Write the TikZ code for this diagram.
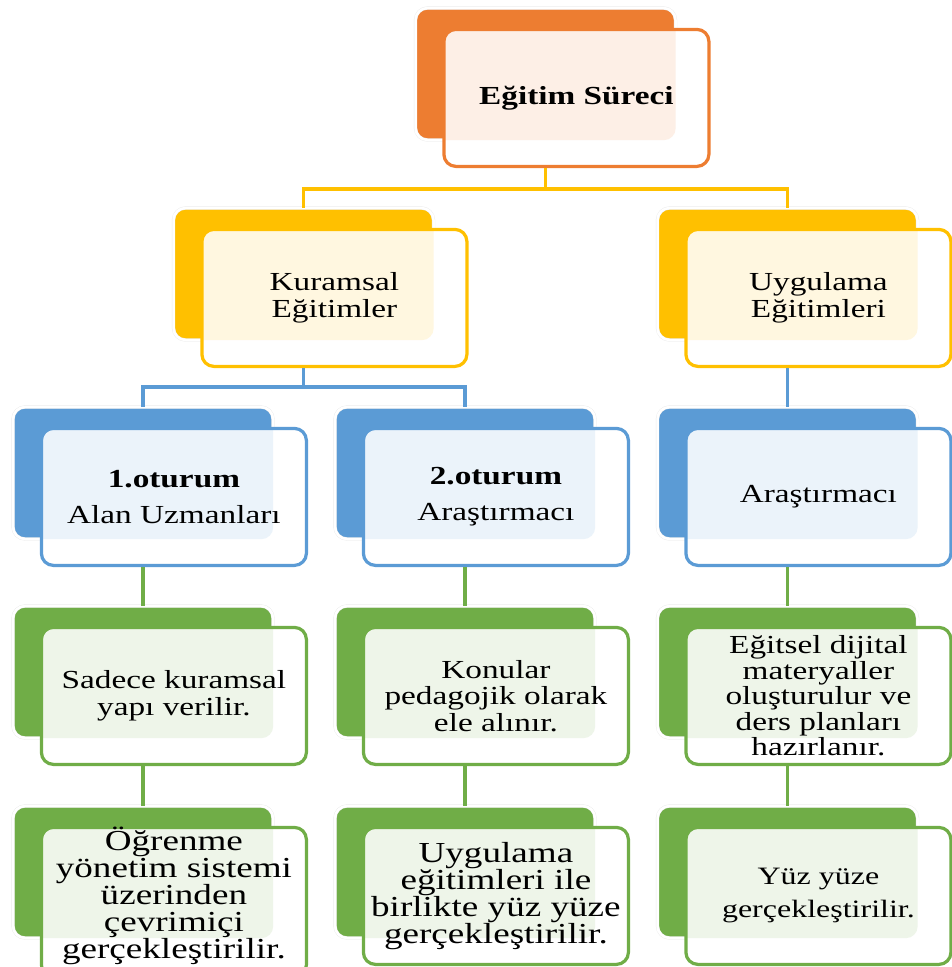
\documentclass[tikz,border=0pt]{standalone}
\usepackage{fontspec}
\setmainfont{Liberation Serif}[FakeStretch=1.28]
\usepackage{tikz}
\usetikzlibrary{positioning}

\definecolor{surecorange}{HTML}{ED7D31}
\definecolor{egitimgold}{HTML}{FFC000}
\definecolor{oturumblue}{HTML}{5B9BD5}
\definecolor{detaygreen}{HTML}{70AD47}

\begin{document}
\begin{tikzpicture}[x=1pt,y=-1pt]
\tikzset{
    back/.style={rectangle, rounded corners=12pt, fill=#1, draw=black!8, double=white, double distance=2.5pt, minimum width=260pt, minimum height=132pt, inner sep=0pt},
    front/.style 2 args={rectangle, rounded corners=12pt, fill=white, draw=#2, line width=3.2pt, minimum width=265pt, minimum height=137pt, inner sep=0pt, align=center, font=\fontsize{26}{26.5}\selectfont, below right=20pt and 27pt of #1.north west, path picture={\fill[#2!12, rounded corners=12pt] (#1.south west) rectangle (#1.north east);}},
    link/.style={draw=#1, line width=3.4pt}
}
\useasboundingbox (0,0) rectangle (951,967);

% ust seviye
\node[back=surecorange] (surecB) at (545.5,74) {};
\node[front={surecB}{surecorange}] (surec) {\textbf{Eğitim Süreci}};

% egitim turleri
\node[back=egitimgold] (kuramsalB) at (303.5,274) {};
\node[front={kuramsalB}{egitimgold}] (kuramsal) {Kuramsal\\Eğitimler};
\node[back=egitimgold] (uygulamaB) at (787.5,274) {};
\node[front={uygulamaB}{egitimgold}] (uygulama) {Uygulama\\Eğitimleri};

% oturumlar
\node[back=oturumblue] (oturum1B) at (143,473) {};
\node[front={oturum1B}{oturumblue}] (oturum1) {\textbf{1.oturum}\\[10pt]Alan Uzmanları};
\node[back=oturumblue] (oturum2B) at (465,473) {};
\node[front={oturum2B}{oturumblue}] (oturum2) {\textbf{2.oturum}\\[10pt]Araştırmacı};
\node[back=oturumblue] (arastirmaB) at (787.5,473) {};
\node[front={arastirmaB}{oturumblue}] (arastirma) {Araştırmacı};

% icerik
\node[back=detaygreen] (sadeceB) at (143,672) {};
\node[front={sadeceB}{detaygreen}] (sadece) {Sadece kuramsal\\yapı verilir.};
\node[back=detaygreen] (konularB) at (465,672) {};
\node[front={konularB}{detaygreen}] (konular) {Konular\\pedagojik olarak\\ele alınır.};
\node[back=detaygreen] (egitselB) at (787.5,672) {};
\node[front={egitselB}{detaygreen}, font=\fontsize{26}{25.5}\selectfont] (egitsel) {Eğitsel dijital\\materyaller\\oluşturulur ve\\ders planları\\hazırlanır.};

% ortam
\node[back=detaygreen] (ogrenmeB) at (143,872) {};
\node[front={ogrenmeB}{detaygreen}, font=\fontsize{29}{27}\selectfont, text depth=18pt] (ogrenme) {Öğrenme\\yönetim sistemi\\üzerinden\\çevrimiçi\\gerçekleştirilir.};
\node[back=detaygreen] (birlikteB) at (465,872) {};
\node[front={birlikteB}{detaygreen}, font=\fontsize{29}{27}\selectfont] (birlikte) {Uygulama\\eğitimleri ile\\birlikte yüz yüze\\gerçekleştirilir.};
\node[back=detaygreen] (yuzB) at (787.5,872) {};
\node[front={yuzB}{detaygreen}, font=\fontsize{25}{33}\selectfont] (yuz) {Yüz yüze\\gerçekleştirilir.};

% baglantilar
\draw[link=egitimgold] (surecB |- surec.south) -- ++(0,21) -| (kuramsalB.north);
\draw[link=egitimgold] (surecB |- surec.south) -- ++(0,21) -| (uygulamaB.north);
\draw[link=oturumblue] (kuramsalB |- kuramsal.south) -- ++(0,19) -| (oturum1B.north);
\draw[link=oturumblue] (kuramsalB |- kuramsal.south) -- ++(0,19) -| (oturum2B.north);
\draw[link=oturumblue] (uygulamaB |- uygulama.south) -- (arastirmaB.north);
\draw[link=detaygreen] (oturum1B |- oturum1.south) -- (sadeceB.north);
\draw[link=detaygreen] (oturum2B |- oturum2.south) -- (konularB.north);
\draw[link=detaygreen] (arastirmaB |- arastirma.south) -- (egitselB.north);
\draw[link=detaygreen] (sadeceB |- sadece.south) -- (ogrenmeB.north);
\draw[link=detaygreen] (konularB |- konular.south) -- (birlikteB.north);
\draw[link=detaygreen] (egitselB |- egitsel.south) -- (yuzB.north);
\end{tikzpicture}
\end{document}
